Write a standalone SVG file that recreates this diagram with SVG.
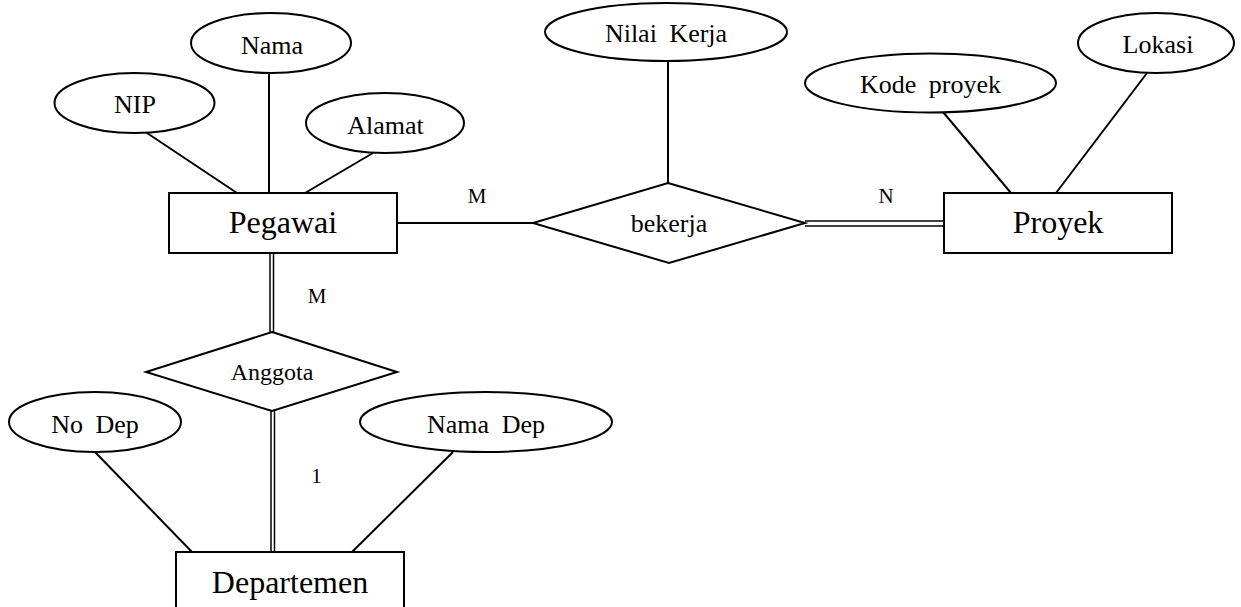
<svg xmlns="http://www.w3.org/2000/svg" width="1241" height="607" viewBox="0 0 1241 607">
<style>
.shape{fill:#fff;stroke:#000;stroke-width:2}
.ln{stroke:#000;stroke-width:2;fill:none}
.dl{stroke:#000;stroke-width:1.5;fill:none}
text{font-family:"Liberation Serif","Times New Roman",serif;fill:#000;text-anchor:middle}
.attr{font-size:26px;word-spacing:6px}
.ent{font-size:32px}
.rel{font-size:26px}
.card{font-size:21px}
</style>
<rect width="1241" height="607" fill="#fff"/>
<g id="connectors">
<line class="ln" x1="147" y1="133" x2="237" y2="193"/>
<line class="ln" x1="269" y1="73" x2="269" y2="193"/>
<line class="ln" x1="373" y1="153" x2="305" y2="193"/>
<line class="ln" x1="397" y1="223" x2="533" y2="223"/>
<line class="ln" x1="668" y1="61" x2="668" y2="183"/>
<line class="ln" x1="943" y1="112" x2="1011" y2="193"/>
<line class="ln" x1="1147" y1="73" x2="1056" y2="193"/>
<line class="dl" x1="805" y1="221" x2="944" y2="221"/>
<line class="dl" x1="805" y1="226" x2="944" y2="226"/>
<line class="dl" x1="270" y1="253" x2="270" y2="332"/>
<line class="dl" x1="273.5" y1="253" x2="273.5" y2="332"/>
<line class="dl" x1="271" y1="411" x2="271" y2="552"/>
<line class="dl" x1="274.5" y1="411" x2="274.5" y2="552"/>
<line class="ln" x1="95" y1="452" x2="192" y2="552"/>
<line class="ln" x1="453" y1="452" x2="352" y2="552"/>
<text class="card" x="477" y="203">M</text>
<text class="card" x="886" y="203">N</text>
<text class="card" x="317" y="303">M</text>
<text class="card" x="316.5" y="483">1</text>
</g>
<g id="attr-nama">
<ellipse class="shape" cx="271" cy="43" rx="80" ry="30"/>
<text class="attr" x="272" y="54">Nama</text>
</g>
<g id="attr-nip">
<ellipse class="shape" cx="134.5" cy="103" rx="80" ry="30"/>
<text class="attr" x="135" y="113">NIP</text>
</g>
<g id="attr-alamat">
<ellipse class="shape" cx="385" cy="123" rx="79" ry="30"/>
<text class="attr" x="385.5" y="134">Alamat</text>
</g>
<g id="attr-nilai-kerja">
<ellipse class="shape" cx="666" cy="32" rx="121" ry="29"/>
<text class="attr" x="666" y="42">Nilai Kerja</text>
</g>
<g id="attr-kode-proyek">
<ellipse class="shape" cx="930.5" cy="83" rx="125.5" ry="29.5"/>
<text class="attr" x="930.5" y="93">Kode proyek</text>
</g>
<g id="attr-lokasi">
<ellipse class="shape" cx="1156" cy="43" rx="78" ry="30"/>
<text class="attr" x="1158" y="53">Lokasi</text>
</g>
<g id="attr-no-dep">
<ellipse class="shape" cx="95" cy="422" rx="86" ry="30"/>
<text class="attr" x="95" y="433">No Dep</text>
</g>
<g id="attr-nama-dep">
<ellipse class="shape" cx="486" cy="422" rx="126" ry="30"/>
<text class="attr" x="486" y="433">Nama Dep</text>
</g>
<g id="ent-pegawai">
<rect class="shape" x="169" y="193" width="228" height="60"/>
<text class="ent" x="283" y="233">Pegawai</text>
</g>
<g id="ent-proyek">
<rect class="shape" x="944" y="193" width="228" height="60"/>
<text class="ent" x="1058" y="233">Proyek</text>
</g>
<g id="ent-departemen">
<rect class="shape" x="176" y="552" width="228" height="60"/>
<text class="ent" x="290" y="593">Departemen</text>
</g>
<g id="rel-bekerja">
<polygon class="shape" points="668,183 805,223 669,263 533,223"/>
<text class="rel" x="669" y="232">bekerja</text>
</g>
<g id="rel-anggota">
<polygon class="shape" points="272,332 397,372 272,411 146,372"/>
<text class="rel" x="272" y="380" style="font-size:24px">Anggota</text>
</g>
</svg>
